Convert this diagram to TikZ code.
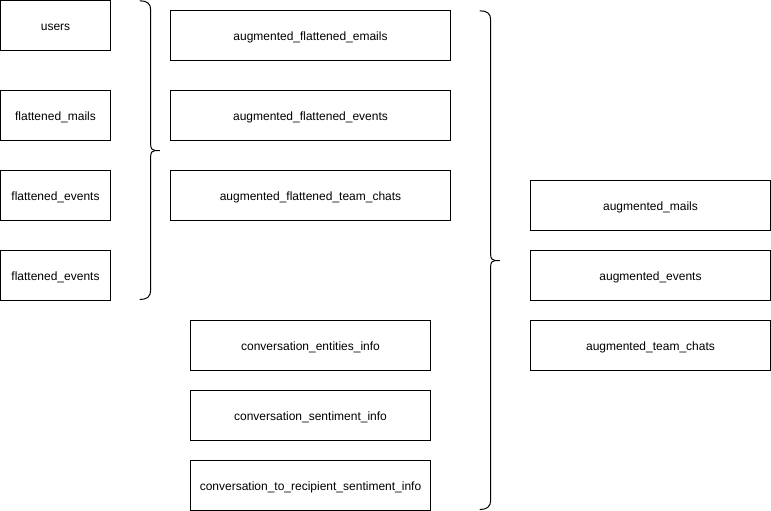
\documentclass[tikz,border=0pt]{standalone}
\usepackage{fontspec}
\setmainfont{Liberation Sans}
\begin{document}
\begin{tikzpicture}[x=1pt,y=-1pt,line width=1pt,
  box/.style={draw,minimum height=50pt,inner sep=0pt,text height=11pt,text depth=1pt,font=\fontsize{12pt}{14pt}\selectfont},
  wa/.style={box,minimum width=110pt},
  wb/.style={box,minimum width=280pt},
  wc/.style={box,minimum width=240pt},
  bracepath/.style={line width=1pt,line cap=round,line join=round}]
\useasboundingbox (0,0) rectangle (771,511);
% left column
\node[wa] (users) at (55.5,25.5) {users};
\node[wa] (fmails) at (55.5,115.5) {flattened\_mails};
\node[wa] (fevents1) at (55.5,195.5) {flattened\_events};
\node[wa] (fevents2) at (55.5,275.5) {flattened\_events};
% middle top
\node[wb] (afemails) at (310.5,35.5) {augmented\_flattened\_emails};
\node[wb] (afevents) at (310.5,115.5) {augmented\_flattened\_events};
\node[wb] (afchats) at (310.5,195.5) {augmented\_flattened\_team\_chats};
% middle bottom
\node[wc] (centities) at (310.5,345.5) {conversation\_entities\_info};
\node[wc] (csentiment) at (310.5,415.5) {conversation\_sentiment\_info};
\node[wc] (crecipient) at (310.5,485.5) {conversation\_to\_recipient\_sentiment\_info};
% right
\node[wc] (amails) at (650.5,205.5) {augmented\_mails};
\node[wc] (aevents) at (650.5,275.5) {augmented\_events};
\node[wc] (achats) at (650.5,345.5) {augmented\_team\_chats};
% brace 1
\draw[bracepath] (140,0.8) .. controls (147,0.8) and (150.7,3.5) .. (150.7,10)
  -- (150.7,145) .. controls (150.7,148.5) and (152.5,150.5) .. (155,150.5) -- (159.5,150.5);
\draw[bracepath] (155,150.5) .. controls (152.5,150.5) and (150.7,152.5) .. (150.7,156)
  -- (150.7,290) .. controls (150.7,296.5) and (147,299.5) .. (140,299.5);
% brace 2
\draw[bracepath] (480,10.8) .. controls (487,10.8) and (490.7,13.5) .. (490.7,20)
  -- (490.7,255) .. controls (490.7,258.5) and (492.5,260.5) .. (495,260.5) -- (499.5,260.5);
\draw[bracepath] (495,260.5) .. controls (492.5,260.5) and (490.7,262.5) .. (490.7,266)
  -- (490.7,500) .. controls (490.7,506.5) and (487,509.5) .. (480,509.5);
\end{tikzpicture}
\end{document}
